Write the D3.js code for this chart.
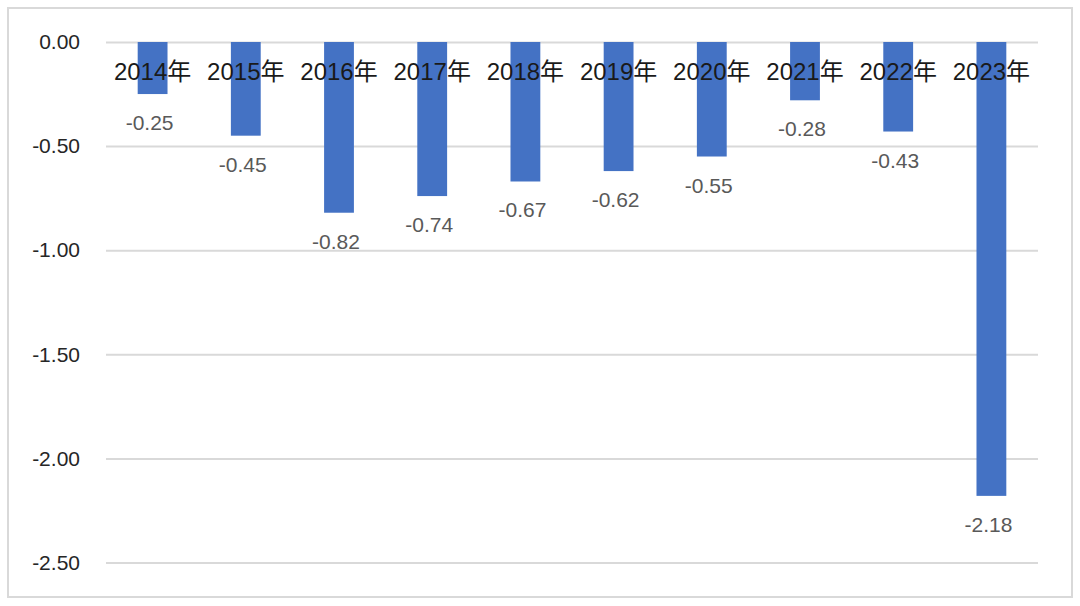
<!DOCTYPE html>
<html>
<head>
<meta charset="utf-8">
<script src="https://cdn.jsdelivr.net/npm/d3@7"></script>
<style>
html,body{margin:0;padding:0;background:#fff;}
svg{display:block;}
</style>
</head>
<body>
<svg id="chart" width="1080" height="606"></svg>
<script>
const categories = ["2014年","2015年","2016年","2017年","2018年","2019年","2020年","2021年","2022年","2023年"];
const values = [-0.25,-0.45,-0.82,-0.74,-0.67,-0.62,-0.55,-0.28,-0.43,-2.18];
const yTicks = [0,-0.5,-1.0,-1.5,-2.0,-2.5];

const loc = d3.formatLocale({decimal:".",thousands:",",grouping:[3],currency:["",""],minus:"-"});
const fmt = loc.format(".2f");

const svg = d3.select("#chart");

svg.append("rect")
  .attr("x",8).attr("y",8).attr("width",1064).attr("height",589)
  .attr("fill","#fff").attr("stroke","#d9d9d9").attr("stroke-width",2);

const x = d3.scaleBand().domain(categories).range([106,1038]).paddingInner(0.68).paddingOuter(0.34);
const y = d3.scaleLinear().domain([-2.5,0]).range([562.5,42]);

// gridlines via axis
const grid = svg.append("g").attr("transform","translate(106,0)")
  .call(d3.axisRight(y).tickValues(yTicks).tickSize(932).tickFormat(""));
grid.select(".domain").remove();
grid.selectAll("line").attr("stroke","#d9d9d9").attr("stroke-width",2);

// y labels
const yax = svg.append("g").attr("transform","translate(80,0)")
  .call(d3.axisLeft(y).tickValues(yTicks).tickSize(0).tickPadding(0).tickFormat(fmt));
yax.select(".domain").remove();
yax.selectAll("text")
  .attr("font-family","'Liberation Sans', Arial, sans-serif")
  .attr("font-size",21).attr("fill","#262626");

// bars
svg.append("g").selectAll("rect").data(values).join("rect")
  .attr("x",(d,i)=>x(categories[i]))
  .attr("width",x.bandwidth())
  .attr("y",d=>y(0))
  .attr("height",d=>y(d)-y(0))
  .attr("fill","#4472C4");

// category labels
svg.append("g").selectAll("text").data(categories).join("text")
  .attr("x",d=>x(d)+x.bandwidth()/2)
  .attr("y",80)
  .attr("text-anchor","middle")
  .attr("font-family","'Liberation Sans', 'Noto Sans CJK SC', sans-serif")
  .attr("font-size",24)
  .attr("fill","#1a1a1a")
  .text(d=>d);

// value labels
svg.append("g").selectAll("text").data(values).join("text")
  .attr("x",(d,i)=>x(categories[i])+x.bandwidth()/2-3)
  .attr("y",d=>y(d)+36)
  .attr("text-anchor","middle")
  .attr("font-family","'Liberation Sans', Arial, sans-serif")
  .attr("font-size",21)
  .attr("fill","#595959")
  .text(d=>fmt(d));
</script>
</body>
</html>
